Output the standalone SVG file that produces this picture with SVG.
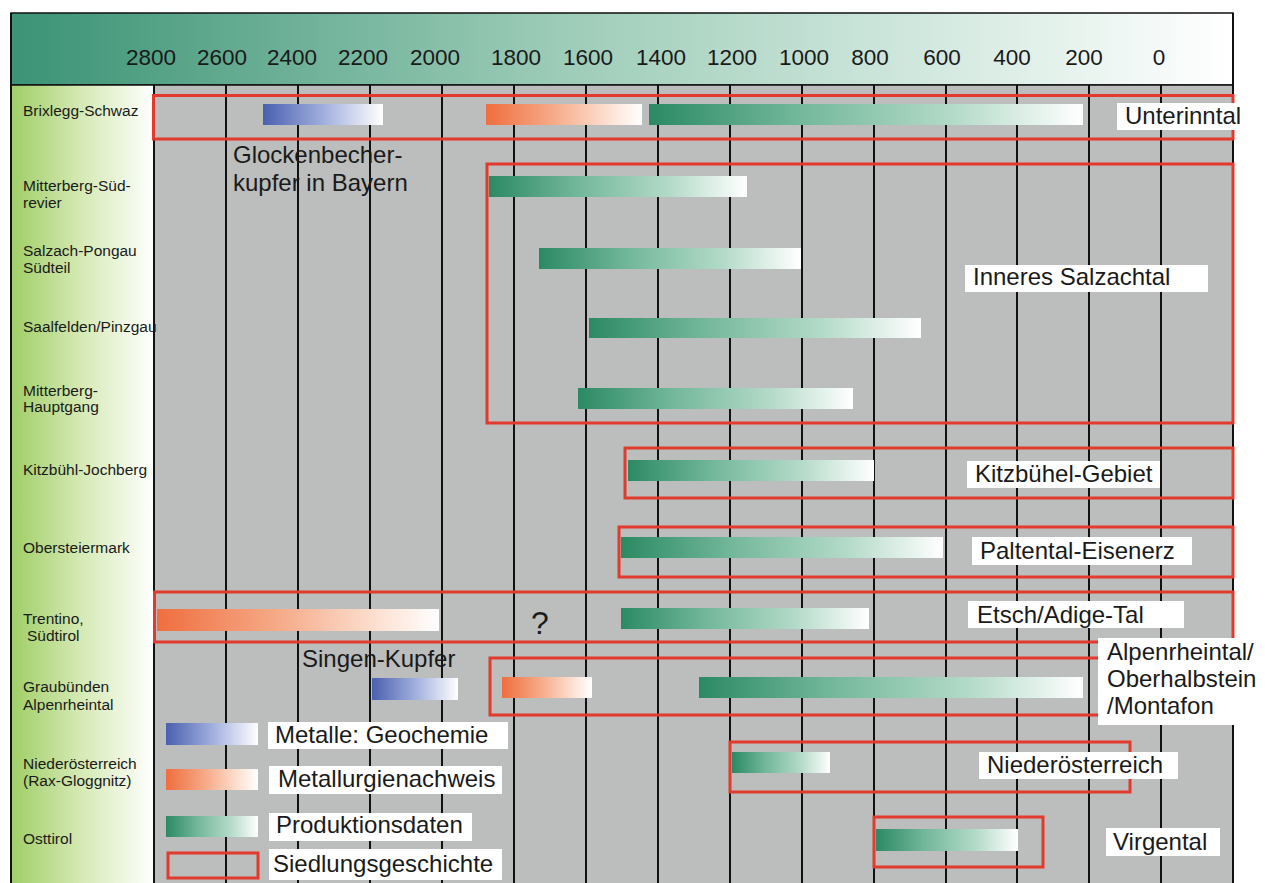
<svg xmlns="http://www.w3.org/2000/svg" width="1265" height="883" viewBox="0 0 1265 883">
<defs>
<linearGradient id="gHead" x1="0" y1="0" x2="1" y2="0">
<stop offset="0" stop-color="#3b9375"/>
<stop offset="0.45" stop-color="#9dccb8"/>
<stop offset="0.8" stop-color="#dbede5"/>
<stop offset="1" stop-color="#ffffff"/>
</linearGradient>
<linearGradient id="gLab" x1="0" y1="0" x2="1" y2="0">
<stop offset="0" stop-color="#a0ce66"/>
<stop offset="0.5" stop-color="#d6eab6"/>
<stop offset="1" stop-color="#ffffff"/>
</linearGradient>
<linearGradient id="gGreen" x1="0" y1="0" x2="1" y2="0">
<stop offset="0" stop-color="#2b8a63"/>
<stop offset="0.35" stop-color="#74b89b"/>
<stop offset="0.7" stop-color="#b3dac8"/>
<stop offset="1" stop-color="#ffffff"/>
</linearGradient>
<linearGradient id="gOrange" x1="0" y1="0" x2="1" y2="0">
<stop offset="0" stop-color="#ef6e3e"/>
<stop offset="0.45" stop-color="#f6ad8c"/>
<stop offset="0.8" stop-color="#fde3d5"/>
<stop offset="1" stop-color="#ffffff"/>
</linearGradient>
<linearGradient id="gBlue" x1="0" y1="0" x2="1" y2="0">
<stop offset="0" stop-color="#4a60b0"/>
<stop offset="0.5" stop-color="#a0aedd"/>
<stop offset="1" stop-color="#ffffff"/>
</linearGradient>
</defs>
<style>
text { font-family: "Liberation Sans", Arial, sans-serif; fill: #1a1a1a; }
.lab { font-size: 15.5px; }
.big { font-size: 24px; }
.hdr { font-size: 22.5px; text-anchor: middle; }
.red { fill: none; stroke: #e23a2c; stroke-width: 3; }
.grid { stroke: #111; stroke-width: 2; }
.box { fill: #ffffff; }
.green { fill: url(#gGreen); }
.orange { fill: url(#gOrange); }
.blue { fill: url(#gBlue); }
</style>
<rect x="0" y="0" width="1265" height="883" fill="#ffffff"/>
<g id="frame">
<rect x="11" y="13" width="1222" height="72" fill="url(#gHead)" stroke="#111" stroke-width="1.5"/>
<rect x="11" y="85" width="143" height="800" fill="url(#gLab)"/>
<rect x="154" y="85" width="1079" height="800" fill="#bcbdbd"/>
<line x1="11" y1="13" x2="11" y2="883" stroke="#111" stroke-width="2"/>
<line x1="11" y1="85" x2="1233" y2="85" stroke="#111" stroke-width="1.5"/>
</g>
<g id="axis">
<text class="hdr" x="151" y="65">2800</text>
<text class="hdr" x="222" y="65">2600</text>
<text class="hdr" x="292" y="65">2400</text>
<text class="hdr" x="363" y="65">2200</text>
<text class="hdr" x="435" y="65">2000</text>
<text class="hdr" x="516" y="65">1800</text>
<text class="hdr" x="588" y="65">1600</text>
<text class="hdr" x="661" y="65">1400</text>
<text class="hdr" x="732" y="65">1200</text>
<text class="hdr" x="804" y="65">1000</text>
<text class="hdr" x="870" y="65">800</text>
<text class="hdr" x="942" y="65">600</text>
<text class="hdr" x="1012" y="65">400</text>
<text class="hdr" x="1084" y="65">200</text>
<text class="hdr" x="1159" y="65">0</text>
</g>
<g id="gridlines" class="grid">
<line x1="154" y1="85" x2="154" y2="883"/>
<line x1="226" y1="85" x2="226" y2="883"/>
<line x1="298" y1="85" x2="298" y2="883"/>
<line x1="370" y1="85" x2="370" y2="883"/>
<line x1="442" y1="85" x2="442" y2="883"/>
<line x1="514" y1="85" x2="514" y2="883"/>
<line x1="586" y1="85" x2="586" y2="883"/>
<line x1="658" y1="85" x2="658" y2="883"/>
<line x1="730" y1="85" x2="730" y2="883"/>
<line x1="802" y1="85" x2="802" y2="883"/>
<line x1="874" y1="85" x2="874" y2="883"/>
<line x1="946" y1="85" x2="946" y2="883"/>
<line x1="1017" y1="85" x2="1017" y2="883"/>
<line x1="1089" y1="85" x2="1089" y2="883"/>
<line x1="1161" y1="85" x2="1161" y2="883"/>
<line x1="1233" y1="13" x2="1233" y2="883"/>
</g>
<g id="labels" class="lab">
<text x="23" y="116">Brixlegg-Schwaz</text>
<text x="23" y="191">Mitterberg-Süd-</text>
<text x="23" y="208">revier</text>
<text x="23" y="256">Salzach-Pongau</text>
<text x="23" y="273">Südteil</text>
<text x="23" y="332">Saalfelden/Pinzgau</text>
<text x="23" y="396">Mitterberg-</text>
<text x="23" y="412">Hauptgang</text>
<text x="23" y="475">Kitzbühl-Jochberg</text>
<text x="23" y="553">Obersteiermark</text>
<text x="23" y="624">Trentino,</text>
<text x="27" y="641">Südtirol</text>
<text x="23" y="692">Graubünden</text>
<text x="23" y="710">Alpenrheintal</text>
<text x="23" y="769">Niederösterreich</text>
<text x="23" y="786">(Rax-Gloggnitz)</text>
<text x="23" y="844">Osttirol</text>
</g>
<g id="row-brixlegg">
<rect class="red" x="153.5" y="95.5" width="1079.5" height="43.5"/>
<rect class="blue" x="263" y="104" width="120" height="21"/>
<rect class="orange" x="486" y="104" width="156" height="21"/>
<rect class="green" x="649" y="104" width="434" height="21"/>
<rect class="box" x="1117" y="103" width="130" height="27"/>
<text class="big" x="1125" y="124">Unterinntal</text>
</g>
<g id="note-glockenbecher">
<text class="big" x="233" y="163">Glockenbecher-</text>
<text class="big" x="233" y="191">kupfer in Bayern</text>
</g>
<g id="region-salzachtal">
<rect class="red" x="487" y="164" width="746" height="259"/>
<rect class="green" x="489" y="176" width="258" height="21"/>
<rect class="green" x="539" y="248" width="262" height="21"/>
<rect class="green" x="589" y="318" width="332" height="20"/>
<rect class="green" x="578" y="388" width="275" height="21"/>
<rect class="box" x="965" y="265" width="243" height="27"/>
<text class="big" x="973" y="285">Inneres Salzachtal</text>
</g>
<g id="row-kitzbuehel">
<rect class="red" x="625" y="448" width="608" height="50"/>
<rect class="green" x="628" y="460" width="246" height="21"/>
<rect class="box" x="967" y="461" width="193" height="27"/>
<text class="big" x="975" y="482">Kitzbühel-Gebiet</text>
</g>
<g id="row-obersteiermark">
<rect class="red" x="619" y="527" width="614" height="50"/>
<rect class="green" x="621" y="537" width="322" height="21"/>
<rect class="box" x="972" y="537" width="220" height="28"/>
<text class="big" x="980" y="559">Paltental-Eisenerz</text>
</g>
<g id="row-trentino">
<rect class="red" x="154.5" y="592" width="1078.5" height="50"/>
<rect class="orange" x="157" y="609" width="282" height="22"/>
<rect class="green" x="621" y="608" width="248" height="21"/>
<text x="540" y="634" text-anchor="middle" style="font-size:32px">?</text>
<rect class="box" x="968" y="601" width="216" height="27"/>
<text class="big" x="977" y="623">Etsch/Adige-Tal</text>
</g>
<g id="row-graubuenden">
<rect class="red" x="490" y="658" width="743" height="57"/>
<text class="big" x="302" y="667">Singen-Kupfer</text>
<rect class="blue" x="372" y="678" width="86" height="22"/>
<rect class="orange" x="502" y="677" width="90" height="21"/>
<rect class="green" x="699" y="677" width="384" height="21"/>
<rect class="box" x="1098" y="638" width="167" height="87"/>
<text class="big" x="1107" y="660">Alpenrheintal/</text>
<text class="big" x="1107" y="687">Oberhalbstein</text>
<text class="big" x="1107" y="714">/Montafon</text>
</g>
<g id="row-niederoesterreich">
<rect class="red" x="730" y="742" width="400" height="50"/>
<rect class="green" x="732" y="752" width="98" height="21"/>
<rect class="box" x="979" y="752" width="199" height="27"/>
<text class="big" x="987" y="773">Niederösterreich</text>
</g>
<g id="row-osttirol">
<rect class="red" x="874" y="817" width="169" height="50"/>
<rect class="green" x="876" y="829" width="142" height="22"/>
<rect class="box" x="1106" y="828" width="114" height="28"/>
<text class="big" x="1113" y="850">Virgental</text>
</g>
<g id="legend">
<rect class="blue" x="166" y="723" width="92" height="22"/>
<rect class="box" x="268" y="722" width="240" height="27"/>
<text class="big" x="275" y="743">Metalle: Geochemie</text>
<rect class="orange" x="166" y="769" width="92" height="21"/>
<rect class="box" x="269" y="766" width="233" height="28"/>
<text class="big" x="278" y="787">Metallurgienachweis</text>
<rect class="green" x="166" y="816" width="92" height="21"/>
<rect class="box" x="269" y="813" width="203" height="28"/>
<text class="big" x="276" y="833">Produktionsdaten</text>
<rect class="red" x="168" y="853" width="90" height="25"/>
<rect class="box" x="269" y="849" width="233" height="31"/>
<text class="big" x="273" y="872">Siedlungsgeschichte</text>
</g>
</svg>
